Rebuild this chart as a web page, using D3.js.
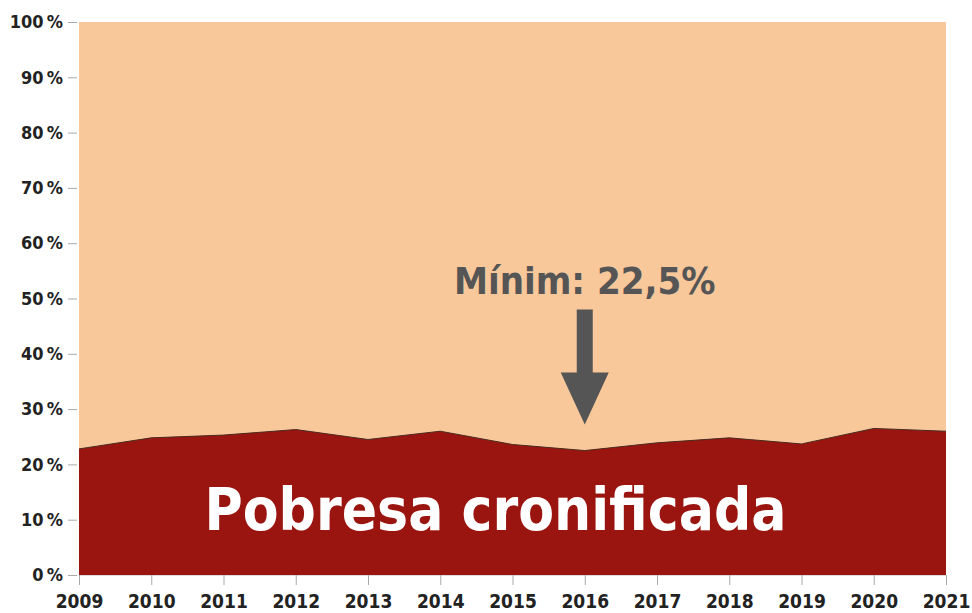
<!DOCTYPE html>
<html><head><meta charset="utf-8">
<script src="https://cdn.jsdelivr.net/npm/d3@7"></script>
<style>
body{margin:0;background:#fff;}
svg{display:block;}
.tk text{font-family:"DejaVu Sans Condensed","DejaVu Sans",sans-serif;fill:#222;}
</style></head>
<body><div id="chart"></div>
<script>
// Persistent poverty share, 2009-2021
const years = [2009,2010,2011,2012,2013,2014,2015,2016,2017,2018,2019,2020,2021];
const chronic = [22.8,24.8,25.3,26.3,24.5,26.0,23.6,22.5,23.9,24.8,23.7,26.5,26.0];
const yTicks = [0,10,20,30,40,50,60,70,80,90,100];
const label = "Pobresa cronificada";
const note = "Mínim: 22,5%";

const width = 972, height = 613, margin = { top: 22, right: 26, bottom: 38, left: 79 };
const svg = d3.select("#chart").append("svg").attr("width", width).attr("height", height);
const x = d3.scaleLinear().domain([2009, 2021]).range([margin.left, width - margin.right]);
const y = d3.scaleLinear().domain([0, 100]).range([height - margin.bottom, margin.top]);

// background share (100%)
svg.append("path").datum(years).attr("fill", "#f8c79a")
  .attr("d", d3.area().x(d => x(d)).y0(y(0)).y1(y(100)));
const pts = years.map((yr, i) => ({ yr, v: chronic[i] }));
svg.append("path").datum(pts).attr("fill", "#9b1510")
  .attr("d", d3.area().x(d => x(d.yr)).y0(y(0)).y1(d => y(d.v)));
svg.append("path").datum(pts).attr("fill", "none").attr("stroke", "#4a2a20").attr("stroke-width", 1)
  .attr("d", d3.line().x(d => x(d.yr)).y(d => y(d.v)));

// axes
const ga = svg.append("g").attr("class", "tk").attr("transform", `translate(${margin.left - 2},0)`)
  .call(d3.axisLeft(y).tickValues(yTicks).tickSize(9).tickPadding(5).tickFormat(d => d + "\u2009%"));
ga.select(".domain").remove();
ga.selectAll("line").attr("stroke", "#aaa");
ga.selectAll("text").attr("font-size", 18).attr("font-weight", 600);
const gx = svg.append("g").attr("class", "tk").attr("transform", `translate(0,${y(0)})`)
  .call(d3.axisBottom(x).tickValues(years).tickFormat(d3.format("d")).tickSize(10).tickPadding(10));
gx.select(".domain").attr("stroke", "#ddd");
gx.selectAll("line").attr("stroke", "#aaa");
gx.selectAll("text").attr("font-size", 19).attr("font-weight", 600);

// annotation: minimum
const iMin = chronic.indexOf(d3.min(chronic));
const ax = x(years[iMin]), tipY = y(chronic[iMin]) - 26;
svg.append("path").attr("fill", "#555")
  .attr("d", `M${ax - 8},${tipY - 115} H${ax + 8} V${tipY - 52} H${ax + 24} L${ax},${tipY} L${ax - 24},${tipY - 52} H${ax - 8} Z`);
svg.append("text").attr("x", ax).attr("y", tipY - 131).attr("text-anchor", "middle")
  .attr("font-family", "DejaVu Sans Condensed, DejaVu Sans, sans-serif").attr("font-weight", "bold")
  .attr("font-size", 38).attr("fill", "#555").text(note);

svg.append("text").attr("x", (x(2009) + x(2021)) / 2 - 17).attr("y", y(8.2)).attr("text-anchor", "middle")
  .attr("font-family", "DejaVu Sans Condensed, DejaVu Sans, sans-serif").attr("font-weight", "bold")
  .attr("font-size", 58).attr("fill", "#fff").text(label);
</script></body></html>
